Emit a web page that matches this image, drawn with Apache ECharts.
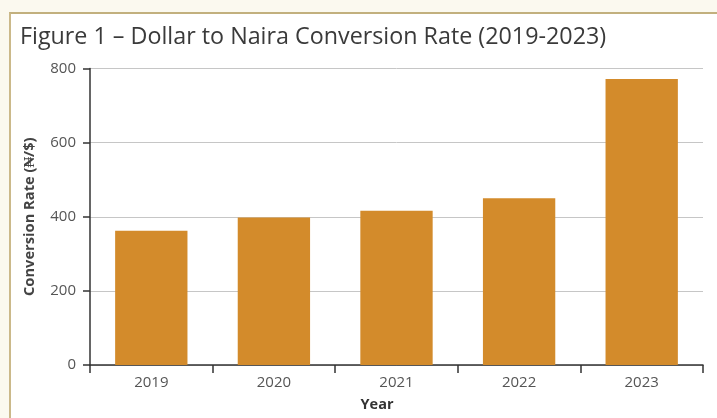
<!DOCTYPE html>
<html>
<head>
<meta charset="utf-8">
<script src="https://cdn.jsdelivr.net/npm/echarts@6/dist/echarts.min.js"></script>
<style>
  html, body { margin: 0; padding: 0; background: #fbf9ef; overflow: hidden; width: 717px; height: 418px; }
  #frame { position: absolute; left: 9px; top: 12px; width: 706px; height: 404px;
           background: #ffffff; border-left: 2px solid #cbb98a; border-top: 2px solid #c2b07e; }
  #chart { position: absolute; left: 0; top: 0; width: 717px; height: 418px; }
</style>
</head>
<body>
<div id="frame"></div>
<div id="chart"></div>
<script>
const titleText = "Figure 1 \u2013 Dollar to Naira Conversion Rate (2019-2023)";
const categories = ["2019", "2020", "2021", "2022", "2023"];
const rates = [362, 398, 416, 450, 772];
const yTicks = [0, 200, 400, 600, 800];
const xName = "Year";
const yName = "Conversion Rate (\u20A6/$)";

const chart = echarts.init(document.getElementById('chart'), null, { renderer: 'canvas' });
chart.setOption({
  backgroundColor: 'transparent',
  animation: false,
  title: {
    text: titleText,
    left: 15, top: 21,
    textStyle: { fontFamily: 'Open Sans', fontSize: 23.3, fontWeight: 'normal', color: '#3a3a3a' }
  },
  grid: { left: 90, right: 14, top: 68.5, bottom: 53, containLabel: false },
  xAxis: {
    type: 'category',
    data: categories,
    name: xName,
    nameLocation: 'middle',
    nameGap: 32,
    nameTextStyle: { fontFamily: 'Open Sans', fontSize: 14.5, fontWeight: 'bold', color: '#333', padding: [0, 39, 0, 0] },
    axisLine: { lineStyle: { color: '#333', width: 1.5 } },
    axisTick: { show: true, length: 8, lineStyle: { color: '#333', width: 1.5 } },
    axisLabel: { margin: 10, fontFamily: 'Open Sans', fontSize: 15, color: '#555' }
  },
  yAxis: {
    type: 'value',
    min: yTicks[0], max: yTicks[yTicks.length - 1], interval: 200,
    name: yName,
    nameLocation: 'middle',
    nameGap: 53,
    nameTextStyle: { fontFamily: 'Open Sans', fontSize: 14.7, fontWeight: 'bold', color: '#444' },
    axisLine: { show: true, lineStyle: { color: '#333', width: 1.5 } },
    axisTick: { show: true, length: 7, lineStyle: { color: '#333', width: 1.5 } },
    axisLabel: { margin: 14, fontFamily: 'Open Sans', fontSize: 15, color: '#555' },
    splitLine: { show: true, lineStyle: { color: '#c6c6c6', width: 1 } }
  },
  series: [{
    type: 'bar',
    data: rates,
    barCategoryGap: '41%',
    itemStyle: { color: '#d38b2b' }
  }]
});
</script>
</body>
</html>
